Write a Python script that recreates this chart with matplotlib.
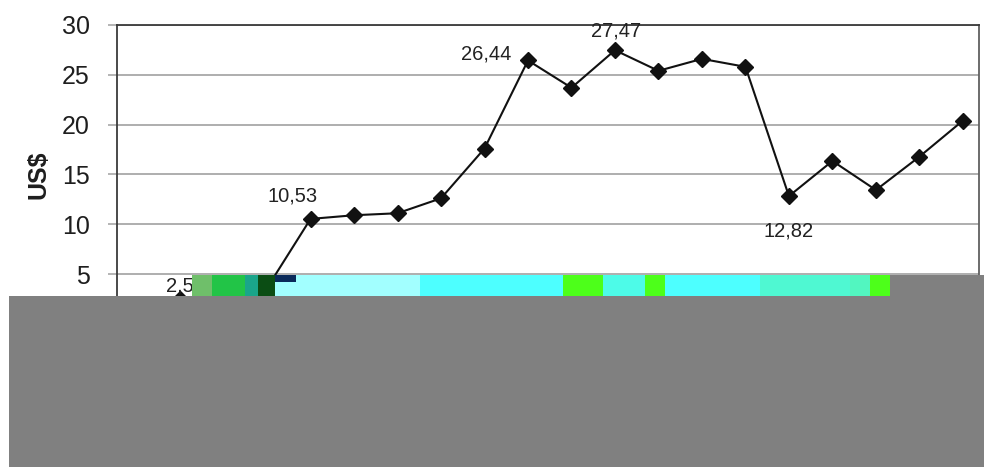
import matplotlib
matplotlib.use("Agg")
import matplotlib.pyplot as plt
from matplotlib.patches import Rectangle

plt.rcParams["font.family"] = ["Liberation Sans", "DejaVu Sans"]

# yearly price series (US$), 20 periods
periods = list(range(20))
prices = [1.6, 2.52, 3.0, 3.6, 10.53, 10.9, 11.1, 12.6, 17.6, 26.44,
          23.7, 27.47, 25.4, 26.6, 25.8, 12.82, 16.35, 13.43, 16.78, 20.4]

# points that carry a value label, with label offsets in points
labelled = [1, 4, 9, 11, 15]
label_offsets = {1: (4, 9.5), 4: (-13, 16.5), 9: (-30, 4.5), 11: (1, 13.5), 15: (0, -25)}

y_ticks = [0, 5, 10, 15, 20, 25, 30]

W, H = 984, 467
fig = plt.figure(figsize=(W / 100, H / 100), dpi=100)
fig.patch.set_facecolor("white")

left, right, top, bottom = 117, 979, 25, 323.8
ax = fig.add_axes([left / W, 1 - bottom / H, (right - left) / W, (bottom - top) / H])

ax.plot(periods, prices, color="#111111", lw=1.5, marker="D", ms=8,
        mfc="#111111", mec="#111111", zorder=3)

for i in labelled:
    dx, dy = label_offsets[i]
    ax.annotate(f"{prices[i]:.2f}".replace(".", ","), (periods[i], prices[i]),
                xytext=(dx, dy), textcoords="offset points",
                ha="center", va="center", fontsize=14.5, color="#222222")

ax.set_xlim(-0.45, 19.37)
ax.set_ylim(0, 30)
ax.set_yticks(y_ticks)
ax.set_yticklabels([str(v) for v in y_ticks])
ax.set_xticks([])
ax.grid(axis="y", color="#a8a8a8", lw=1.3)
ax.set_axisbelow(True)
ax.tick_params(axis="y", length=6.5, width=1.2, color="#a8a8a8", pad=13,
               labelsize=18, labelcolor="#1e1e1e")
for s in ax.spines.values():
    s.set_color("#3a3a3a")
    s.set_linewidth(1.3)
ax.spines["right"].set_color("#606060")
ax.set_ylabel("US$", fontsize=18, fontweight="bold", color="#1e1e1e", labelpad=8)


def px_rect(x0, y0, x1, y1, color):
    fig.add_artist(Rectangle((x0 / W, 1 - y1 / H), (x1 - x0) / W, (y1 - y0) / H,
                             transform=fig.transFigure, facecolor=color,
                             edgecolor="none", zorder=10))


# colour band over the lower part of the plot
band = [
    (192, 212, "#6fbf6a"), (212, 245, "#22c447"), (245, 258, "#1aa58a"),
    (258, 275, "#0b4d14"), (275, 420, "#a2ffff"), (420, 563, "#4dffff"),
    (563, 603, "#4dff1a"), (603, 645, "#4dfbe8"), (645, 665, "#4dff1a"),
    (665, 760, "#4dffff"), (760, 850, "#4ff8d2"), (850, 870, "#52f6c0"),
    (870, 890, "#4dff1a"),
]
for x0, x1, c in band:
    px_rect(x0, 275, x1, 296, c)
px_rect(275, 275, 296, 282, "#0a2a5a")

# grey cover block
px_rect(9, 296, 984, 467, "#808080")
px_rect(890, 275, 984, 296, "#808080")

fig.savefig("out.png", dpi=100)
